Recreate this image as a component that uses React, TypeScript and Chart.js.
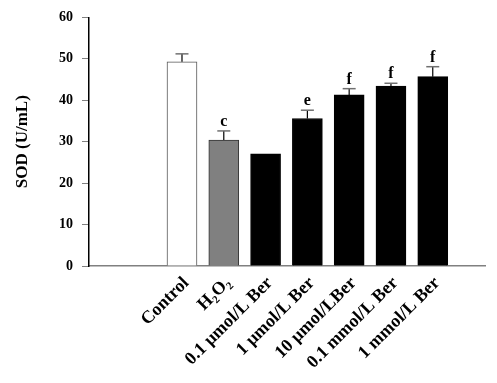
import React, { useEffect, useRef } from "react";
import { Chart, registerables } from "chart.js";

Chart.register(...registerables);

const categories = ["Control", "H\u2082O\u2082", "0.1 \u03bcmol/L Ber", "1 \u03bcmol/L Ber", "10 \u03bcmol/LBer", "0.1 mmol/L Ber", "1 mmol/L Ber"];
const sodValues = [49.3, 30.4, 27.1, 35.6, 41.3, 43.4, 45.7];
const sodErrors = [1.9, 2.2, 0, 2.0, 1.5, 0.7, 2.4];
const sigLetters = ["", "c", "", "e", "f", "f", "f"];
const barColors = ["#ffffff", "#808080", "#000000", "#000000", "#000000", "#000000", "#000000"];
const barBorders = ["#555555", "#333333", "#000000", "#000000", "#000000", "#000000", "#000000"];
const yTicks = [0, 10, 20, 30, 40, 50, 60];

const FONT = "'Liberation Serif', 'Times New Roman', serif";

const errorBarPlugin = {
  id: "errorBars",
  afterDatasetsDraw(chart: any) {
    const ctx = chart.ctx;
    const xs = chart.scales.x;
    const ys = chart.scales.y;
    ctx.save();
    sodValues.forEach((v, i) => {
      const x = xs.getPixelForValue(i);
      const yBar = ys.getPixelForValue(v);
      const yTop = ys.getPixelForValue(v + sodErrors[i]);
      if (sodErrors[i] > 0) {
        ctx.strokeStyle = "#000000";
        ctx.lineWidth = 1.2;
        ctx.beginPath();
        ctx.moveTo(x, yBar);
        ctx.lineTo(x, yTop);
        ctx.stroke();
        ctx.strokeStyle = "#707070";
        ctx.lineWidth = 1.5;
        ctx.beginPath();
        ctx.moveTo(x - 6.5, yTop);
        ctx.lineTo(x + 6.5, yTop);
        ctx.stroke();
      }
      if (sigLetters[i]) {
        ctx.fillStyle = "#000000";
        ctx.font = "bold 16px " + FONT;
        ctx.textAlign = "center";
        ctx.textBaseline = "alphabetic";
        ctx.fillText(sigLetters[i], x, yTop - 5);
      }
    });
    ctx.restore();
  },
};

const categoryLabelPlugin = {
  id: "categoryLabels",
  afterDraw(chart: any) {
    const ctx = chart.ctx;
    const xs = chart.scales.x;
    const axisY = chart.chartArea.bottom;
    ctx.save();
    ctx.fillStyle = "#000000";
    ctx.font = "bold 18px " + FONT;
    ctx.textAlign = "right";
    ctx.textBaseline = "top";
    categories.forEach((label, i) => {
      const x = xs.getPixelForValue(i);
      ctx.save();
      ctx.translate(x - 2, axisY + 8);
      ctx.rotate(-Math.PI / 4);
      ctx.fillText(label, 0, 0);
      ctx.restore();
    });
    ctx.restore();
  },
};

export default function App() {
  const ref = useRef<HTMLCanvasElement | null>(null);
  useEffect(() => {
    document.body.style.margin = "0";
    const canvas = ref.current;
    if (!canvas) return;
    const chart = new Chart(canvas, {
      type: "bar",
      data: {
        datasets: [
          {
            data: sodValues.map((v, i) => ({ x: i, y: v })),
            backgroundColor: barColors,
            borderColor: barBorders,
            borderWidth: 1,
            barThickness: 30,
          } as any,
        ],
      },
      options: {
        responsive: false,
        animation: false,
        devicePixelRatio: 1,
        layout: { padding: { top: 13, right: 12, left: 0, bottom: 0 } },
        plugins: { legend: { display: false }, tooltip: { enabled: false } },
        scales: {
          x: {
            type: "linear",
            offset: false,
            min: -2.225,
            max: 7.25,
            grid: { display: false, offset: false },
            border: { display: true, color: "#808080", width: 1.5 },
            afterBuildTicks: (s: any) => {
              s.ticks = categories.map((_, i) => ({ value: i }));
            },
            afterFit: (s: any) => {
              s.height = 117;
            },
            ticks: { display: false },
          },
          y: {
            min: 0,
            max: 60,
            afterBuildTicks: (s: any) => {
              s.ticks = yTicks.map((v) => ({ value: v }));
            },
            afterFit: (s: any) => {
              s.width = 89;
            },
            grid: { drawOnChartArea: false, drawTicks: true, tickLength: 7, color: "#808080" },
            border: { display: true, color: "#000000", width: 1.5 },
            ticks: {
              padding: 9,
              color: "#000000",
              font: { family: FONT, size: 14, weight: "bold" },
            },
            title: {
              display: true,
              text: "SOD (U/mL)",
              color: "#000000",
              font: { family: FONT, size: 17, weight: "bold" },
              padding: { top: 12, bottom: 0 },
            },
          },
        },
      },
      plugins: [errorBarPlugin, categoryLabelPlugin],
    });
    return () => chart.destroy();
  }, []);
  return (
    <div style={{ width: 497, height: 383, background: "#ffffff" }}>
      <canvas ref={ref} width={497} height={383} />
    </div>
  );
}
